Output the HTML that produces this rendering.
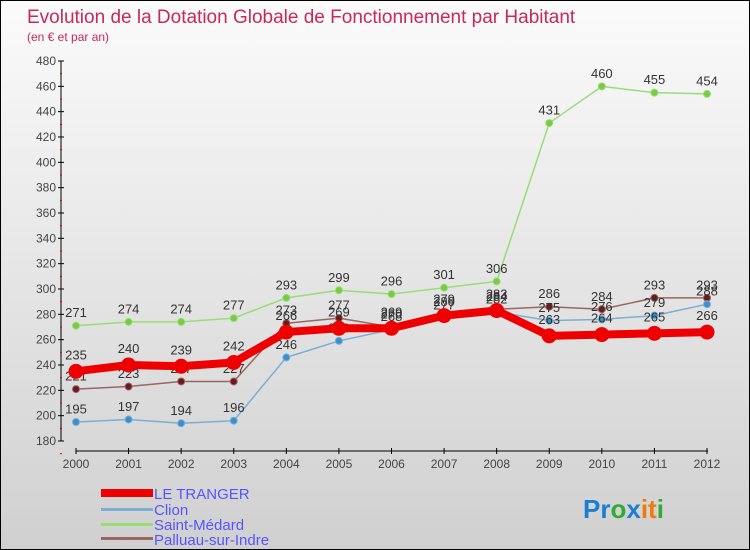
<!DOCTYPE html>
<html><head><meta charset="utf-8"><style>
body{margin:0}
#wrap{width:748px;height:548px;border:1px solid #000;position:relative;background:linear-gradient(#fbfbfb,#d0d0d0);font-family:"Liberation Sans",sans-serif;overflow:hidden}
</style></head><body>
<div id="wrap">
<svg id="svg" width="748" height="548">
<text x="26" y="22" font-size="19" fill="#c8285a">Evolution de la Dotation Globale de Fonctionnement par Habitant</text>
<text x="26" y="40" font-size="12" fill="#c8285a">(en € et par an)</text>
<g id="axes"></g><g id="series"></g>
<g font-size="15" fill="#5555ff">
<rect x="100" y="488" width="52" height="8" fill="#e00"/>
<text x="153" y="498">LE TRANGER</text>
<rect x="100" y="507" width="52" height="3" fill="#7aaed6"/>
<text x="153" y="514">Clion</text>
<rect x="100" y="522" width="52" height="3" fill="#99dd77"/>
<text x="153" y="529">Saint-Médard</text>
<rect x="100" y="536" width="52" height="3" fill="#996666"/>
<text x="153" y="544">Palluau-sur-Indre</text>
</g>
<text x="582" y="517" font-size="26" font-weight="bold"><tspan fill="#1a7fd0">Pr</tspan><tspan fill="#33aa33">o</tspan><tspan fill="#1a7fd0">x</tspan><tspan fill="#f07a10">it</tspan><tspan fill="#33aa33">i</tspan></text>
</svg></div>
<script>
const years=[2000,2001,2002,2003,2004,2005,2006,2007,2008,2009,2010,2011,2012];
const yTicks=[180,200,220,240,260,280,300,320,340,360,380,400,420,440,460,480];
const leTranger=[235,240,239,242,266,269,269,279,283,263,264,265,266];
const clion=[195,197,194,196,246,259,268,277,282,275,276,279,288];
const saintMedard=[271,274,274,277,293,299,296,301,306,431,460,455,454];
const palluau=[221,223,227,227,273,277,270,280,284,286,284,293,293];
const NS="http://www.w3.org/2000/svg";
function xS(i){return 75+i*(706-75)/(years.length-1);}
function yS(v){return 440-(v-180)*(380/300);}
function mk(t,a,p){const e=document.createElementNS(NS,t);for(const k in a)e.setAttribute(k,a[k]);p.appendChild(e);return e;}
const ax=document.getElementById('axes');
let l=mk('line',{x1:60,y1:60,x2:60,y2:440,stroke:'#000'},ax);


l=mk('line',{x1:75,y1:450,x2:707,y2:450,stroke:'#000'},ax);


yTicks.forEach(v=>{const y=yS(v);
 mk('line',{x1:57,y1:y,x2:63,y2:y,stroke:'#000'},ax);
 mk('line',{x1:59,y1:y+12.7,x2:61,y2:y+12.7,stroke:'#d00'},ax);
 const t=mk('text',{x:55,y:y+4,'font-size':12,fill:'#444','text-anchor':'end'},ax);t.textContent=v;
 
 });
years.forEach((yr,i)=>{const x=xS(i);
 mk('line',{x1:x,y1:447,x2:x,y2:453,stroke:'#000'},ax);
 const t=mk('text',{x:x,y:467,'font-size':12,fill:'#444','text-anchor':'middle'},ax);t.textContent=yr;
 
 });
const sg=document.getElementById('series');
function draw(vals,name,color,w,r,dot){
 const g=mk('g',{},sg);
 
 
 const pl=mk('polyline',{points:vals.map((v,i)=>xS(i)+','+yS(v)).join(' '),fill:'none',stroke:color,'stroke-width':w,'stroke-linejoin':'round'},g);
 
 
 vals.forEach((v,i)=>{const c=mk('circle',{cx:xS(i),cy:yS(v),r:r,fill:dot,stroke:color,'stroke-width':1},g);
  
  
  const t=mk('text',{x:xS(i),y:yS(v)-r-5,'font-size':13,fill:'#333','text-anchor':'middle'},g);t.textContent=v;
  
  });
}
draw(saintMedard,'saint-medard','#99dd77',1.5,3.5,'#77cc44');
draw(palluau,'palluau','#996666',1.5,3.5,'#6a1a1a');
draw(clion,'clion','#7aaed6',1.5,3.5,'#3a8fd0');
draw(leTranger,'le-tranger','#e00',8,7,'#e00');
</script></body></html>
